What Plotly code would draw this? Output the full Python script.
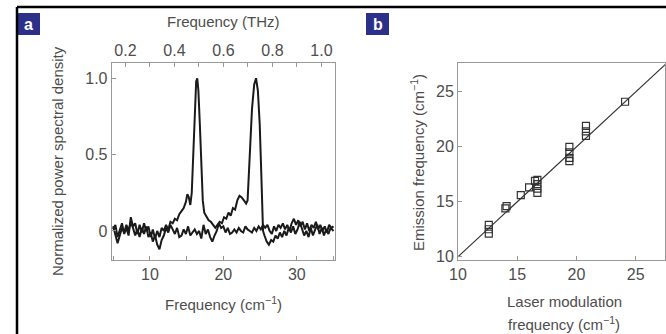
import plotly.graph_objects as go

# ---- Panel a data (frequency in cm^-1, normalized PSD) ----
peak_freq = [5.0, 5.3, 5.6, 5.9, 6.2, 6.5, 6.8, 7.1, 7.4, 7.7, 8.0, 8.3, 8.6, 8.9, 9.2, 9.5,
             9.8, 10.1, 10.4, 10.7, 11.0, 11.3, 11.6, 11.9, 12.2, 12.5, 12.8, 13.1, 13.4, 13.7,
             14.0, 14.3, 14.6, 14.9, 15.1, 15.3, 15.5, 15.7, 15.9, 16.1, 16.3, 16.45, 16.6, 16.8,
             17.0, 17.2, 17.4, 17.7, 18.0, 18.3, 18.6, 18.9, 19.2, 19.5, 19.8, 20.1, 20.4, 20.7,
             21.0, 21.3, 21.6, 21.9, 22.2, 22.5, 22.8, 23.1, 23.3, 23.6, 23.9, 24.2, 24.45, 24.7,
             24.95, 25.15, 25.3, 25.4, 25.6, 25.9, 26.2, 26.5, 26.8, 27.1, 27.4, 27.7, 28.0, 28.3,
             28.6, 28.9, 29.2, 29.5, 29.8, 30.1, 30.4, 30.7, 31.0, 31.3, 31.6, 31.9, 32.2, 32.5,
             32.8, 33.1, 33.4, 33.7, 34.0, 34.3, 34.6, 35.0]
peak_psd = [0.01, 0.04, -0.04, 0.0, 0.05, -0.02, 0.02, -0.03, 0.09, 0.03, 0.05, -0.02, 0.04, -0.01, 0.05, 0.0,
            0.03, -0.04, 0.01, -0.05, 0.0, -0.04, 0.02, 0.0, 0.04, 0.01, 0.06, 0.05, 0.08, 0.07,
            0.11, 0.13, 0.15, 0.19, 0.24, 0.22, 0.17, 0.25, 0.5, 0.8, 0.98, 1.0, 0.92, 0.7,
            0.42, 0.2, 0.12, 0.09, 0.07, 0.06, 0.04, 0.02, 0.04, 0.06, 0.05, 0.09, 0.08, 0.12,
            0.1, 0.15, 0.14, 0.2, 0.23, 0.22, 0.2, 0.18, 0.2, 0.5, 0.8, 0.96, 1.0, 0.92,
            0.7, 0.4, 0.1, 0.0, -0.03, -0.07, -0.09, -0.06, -0.07, -0.03, -0.05, -0.01, -0.04, 0.0,
            -0.03, 0.02, -0.01, 0.03, -0.02, 0.01, 0.06, 0.02, -0.03, 0.0, -0.04, 0.02, -0.03, 0.01,
            0.04, -0.02, 0.02, -0.03, 0.01, -0.02, 0.02, 0.0]

flat_freq = [5.0, 5.3, 5.6, 5.9, 6.2, 6.5, 6.8, 7.1, 7.4, 7.7, 8.0, 8.3, 8.6, 8.9, 9.2, 9.5, 9.8,
             10.1, 10.4, 10.7, 11.0, 11.3, 11.6, 11.9, 12.2, 12.5, 12.8, 13.1, 13.4, 13.7, 14.0,
             14.3, 14.6, 14.9, 15.2, 15.5, 15.8, 16.1, 16.4, 16.7, 17.0, 17.3, 17.6, 17.9, 18.2,
             18.5, 18.8, 19.1, 19.4, 19.7, 20.0, 20.3, 20.6, 20.9, 21.2, 21.5, 21.8, 22.1, 22.4,
             22.7, 23.0, 23.3, 23.6, 23.9, 24.2, 24.5, 24.8, 25.1, 25.4, 25.7, 26.0, 26.3, 26.6,
             26.9, 27.2, 27.5, 27.8, 28.1, 28.4, 28.7, 29.0, 29.3, 29.6, 29.9, 30.2, 30.5, 30.8,
             31.1, 31.4, 31.7, 32.0, 32.3, 32.6, 32.9, 33.2, 33.5, 33.8, 34.1, 34.4, 34.7, 35.0]
flat_psd = [0.03, -0.02, -0.08, -0.03, 0.02, -0.01, 0.04, 0.0, 0.06, 0.02, -0.03, 0.01, -0.04, 0.02, -0.02, 0.03, -0.04,
            -0.01, -0.07, -0.03, -0.09, -0.12, -0.06, -0.03, 0.02, -0.01, 0.04, 0.01, -0.02, 0.02, -0.04,
            -0.03, 0.01, -0.02, 0.03, -0.03, -0.01, 0.01, -0.02, 0.0, -0.05, 0.04, -0.02, 0.01, -0.04,
            -0.07, -0.03, 0.0, 0.05, 0.02, 0.03, -0.01, 0.02, -0.02, -0.01, 0.01, -0.01, 0.02, 0.0,
            -0.01, 0.03, 0.01, 0.0, -0.01, 0.02, 0.0, 0.03, 0.01, 0.04, 0.02, 0.04, 0.0, -0.02,
            0.03, 0.0, 0.04, 0.02, 0.05, 0.01, 0.04, 0.0, 0.05, 0.08, 0.04, 0.07, 0.03, 0.06,
            0.01, 0.05, 0.0, 0.04, 0.02, 0.06, 0.01, 0.04, 0.0, 0.03, -0.01, 0.04, 0.02, 0.03]

# top axis (THz) tick labels
thz_ticks = [0.2, 0.4, 0.6, 0.8, 1.0]
thz_labels = ["0.2", "0.4", "0.6", "0.8", "1.0"]
thz_range = [0.1439, 1.0553]

# ---- Panel b data ----
laser_mod = [12.6, 12.6, 12.6, 14.0, 14.1, 15.3, 16.0, 16.5, 16.7, 16.7, 16.7, 16.7,
             19.4, 19.4, 19.4, 19.4, 20.8, 20.8, 20.8, 24.1]
emission = [12.9, 12.5, 12.1, 14.4, 14.6, 15.6, 16.3, 16.9, 17.0, 16.6, 16.2, 15.8,
            20.0, 19.5, 19.0, 18.7, 21.9, 21.4, 21.0, 24.1]
fit_line = [10, 28]

W, H = 666, 334
def px(x):
    return x / W
def py(y):
    return 1 - y / H

TXT = "#4d4d4d"
FONT = "Liberation Sans, Arial, sans-serif"
AX = "#999999"

fig = go.Figure()
fig.add_trace(go.Scatter(x=flat_freq, y=flat_psd, mode="lines",
                         line=dict(color="#1a1a1a", width=2), xaxis="x", yaxis="y", hoverinfo="skip"))
fig.add_trace(go.Scatter(x=peak_freq, y=peak_psd, mode="lines",
                         line=dict(color="#1a1a1a", width=2), xaxis="x", yaxis="y", hoverinfo="skip"))
fig.add_trace(go.Scatter(x=thz_range, y=[0, 0], mode="lines", line=dict(width=0),
                         opacity=0, xaxis="x2", yaxis="y", hoverinfo="skip"))
fig.add_trace(go.Scatter(x=fit_line, y=fit_line, mode="lines",
                         line=dict(color="#333333", width=1.2), xaxis="x3", yaxis="y3", hoverinfo="skip"))
fig.add_trace(go.Scatter(x=laser_mod, y=emission, mode="markers",
                         marker=dict(symbol="square-open", size=7, color="#333333", line=dict(width=1.2)),
                         xaxis="x3", yaxis="y3", hoverinfo="skip"))

tickfont = dict(family=FONT, size=16, color=TXT)
common = dict(showgrid=False, zeroline=False, showline=True, linecolor=AX, linewidth=1,
              ticks="inside", ticklen=4, tickcolor=AX, tickfont=tickfont, automargin=False)

dom_a_x = [px(111.7), px(335)]
dom_y = [py(259.5), py(63.3)]
dom_b_x = [px(458), px(665)]

fig.update_layout(
    width=W, height=H, margin=dict(l=0, r=0, t=0, b=0, autoexpand=False),
    paper_bgcolor="white", plot_bgcolor="white", showlegend=False,
    xaxis=dict(domain=dom_a_x, anchor="y", range=[4.8, 35.2], tickvals=[10, 20, 30],
               minor=dict(dtick=5, tick0=0, ticks="inside", ticklen=4, tickcolor=AX), **common),
    xaxis2=dict(overlaying="x", side="top", anchor="y", range=thz_range,
                tickvals=thz_ticks, ticktext=thz_labels,
                minor=dict(dtick=0.1, tick0=0, ticks="inside", ticklen=4, tickcolor=AX), **common),
    yaxis=dict(domain=dom_y, anchor="x", range=[-0.187, 1.098], tickvals=[0, 0.5, 1.0],
               ticktext=["0", "0.5", "1.0"], mirror=True, **common),
    xaxis3=dict(domain=dom_b_x, anchor="y3", range=[10, 27.47], tickvals=[10, 15, 20, 25],
                mirror=True, **common),
    yaxis3=dict(domain=dom_y, anchor="x3", range=[9.745, 27.6], tickvals=[10, 15, 20, 25],
                mirror=True, **common),
)

titlefont = dict(family=FONT, size=15, color=TXT)
ann = [
    dict(text="Frequency (THz)", x=px(223), y=py(22)),
    dict(text="Frequency (cm<sup>−1</sup>)", x=px(223), y=py(303)),
    dict(text="Normalized power spectral density", x=px(57), y=py(161), textangle=-90),
    dict(text="Emission frequency (cm<sup>−1</sup>)", x=px(418), y=py(162), textangle=-90),
    dict(text="Laser modulation", x=px(564), y=py(301)),
    dict(text="frequency (cm<sup>−1</sup>)", x=px(564), y=py(323)),
]
for a in ann:
    fig.add_annotation(xref="paper", yref="paper", showarrow=False, font=titlefont,
                       xanchor="center", yanchor="middle", **a)

# panel labels
for lab, x0 in (("a", 17), ("b", 366)):
    fig.add_shape(type="rect", xref="paper", yref="paper", x0=px(x0), x1=px(x0 + 23),
                  y0=py(35), y1=py(13), fillcolor="#2d3088", line=dict(width=0))
    fig.add_annotation(text="<b>%s</b>" % lab, xref="paper", yref="paper", x=px(x0 + 11.5), y=py(24),
                       showarrow=False, font=dict(family=FONT, size=16, color="white"),
                       xanchor="center", yanchor="middle")

# black frame (top and left)
fig.add_shape(type="line", xref="paper", yref="paper", x0=px(17), x1=px(666), y0=py(7), y1=py(7),
              line=dict(color="black", width=2.5))
fig.add_shape(type="line", xref="paper", yref="paper", x0=px(17), x1=px(17), y0=py(7), y1=py(334),
              line=dict(color="black", width=2.5))

fig.write_html("out.html")
